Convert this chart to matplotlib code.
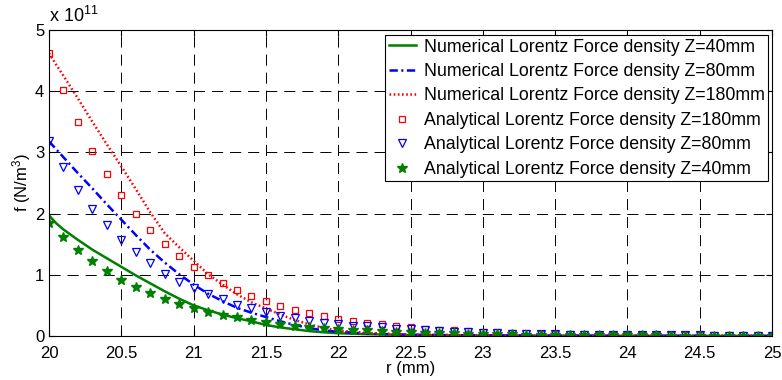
#!/usr/bin/env python
# -*- coding: utf-8 -*-
"""Lorentz force density vs radius: numerical lines and analytical markers."""

import matplotlib
matplotlib.use("Agg")
import matplotlib.pyplot as plt

plt.rcParams['font.family'] = ['Liberation Sans', 'DejaVu Sans']
plt.rcParams['mathtext.fontset'] = 'custom'
plt.rcParams['mathtext.rm'] = 'Liberation Sans'
plt.rcParams['mathtext.it'] = 'Liberation Sans:italic'
plt.rcParams['lines.scale_dashes'] = False

# r grid for the analytical points (mm)
r_ana = [20.0, 20.1, 20.2, 20.3, 20.4, 20.5, 20.6, 20.7, 20.8, 20.9,
         21.0, 21.1, 21.2, 21.3, 21.4, 21.5, 21.6, 21.7, 21.8, 21.9,
         22.0, 22.1, 22.2, 22.3, 22.4, 22.5, 22.6, 22.7, 22.8, 22.9,
         23.0, 23.1, 23.2, 23.3, 23.4, 23.5, 23.6, 23.7, 23.8, 23.9,
         24.0, 24.1, 24.2, 24.3, 24.4, 24.5, 24.6, 24.7, 24.8, 24.9, 25.0]

# analytical values, units of 1e11 N/m^3
ana_180 = [4.62, 4.02, 3.50, 3.03, 2.64, 2.30, 2.00, 1.73, 1.51, 1.31,
           1.13, 0.99, 0.86, 0.75, 0.65, 0.57, 0.49, 0.42, 0.37, 0.32,
           0.28, 0.25, 0.22, 0.19, 0.17, 0.15, 0.12, 0.10, 0.09, 0.08,
           0.07, 0.06, 0.05, 0.045, 0.04, 0.035, 0.03, 0.027, 0.024, 0.021,
           0.019, 0.017, 0.015, 0.014, 0.013, 0.012, 0.011, 0.010, 0.009, 0.009, 0.008]
ana_80 = [3.18, 2.76, 2.39, 2.08, 1.81, 1.57, 1.37, 1.19, 1.02, 0.89,
          0.78, 0.68, 0.60, 0.51, 0.45, 0.39, 0.33, 0.29, 0.25, 0.22,
          0.20, 0.17, 0.16, 0.14, 0.12, 0.11, 0.095, 0.08, 0.07, 0.06,
          0.05, 0.045, 0.04, 0.035, 0.03, 0.027, 0.024, 0.021, 0.019, 0.017,
          0.015, 0.013, 0.012, 0.011, 0.010, 0.009, 0.008, 0.008, 0.007, 0.007, 0.006]
ana_40 = [1.85, 1.61, 1.41, 1.23, 1.06, 0.92, 0.80, 0.70, 0.60, 0.52,
          0.46, 0.40, 0.35, 0.31, 0.26, 0.23, 0.20, 0.17, 0.15, 0.13,
          0.11, 0.10, 0.09, 0.08, 0.07, 0.065, 0.055, 0.05, 0.045, 0.04,
          0.035, 0.03, 0.027, 0.024, 0.021, 0.019, 0.017, 0.015, 0.013, 0.012,
          0.011, 0.010, 0.009, 0.008, 0.007, 0.007, 0.006, 0.006, 0.005, 0.005, 0.005]

# numerical curves
r_num = [20.0, 20.05, 20.1, 20.2, 20.3, 20.4, 20.5, 20.6, 20.7, 20.8, 20.9,
         21.0, 21.1, 21.2, 21.3, 21.4, 21.5, 21.6, 21.7, 21.8, 21.9,
         22.0, 22.2, 22.5, 23.0, 23.5, 24.0, 24.5, 25.0]
num_40 = [1.97, 1.84, 1.74, 1.57, 1.41, 1.27, 1.13, 0.99, 0.86, 0.73, 0.61,
          0.50, 0.42, 0.35, 0.29, 0.24, 0.18, 0.14, 0.11, 0.08, 0.06,
          0.045, 0.03, 0.015, 0.008, 0.005, 0.003, 0.002, 0.001]
num_80 = [3.18, 3.05, 2.92, 2.66, 2.41, 2.15, 1.90, 1.65, 1.41, 1.20, 1.01,
          0.84, 0.69, 0.57, 0.46, 0.38, 0.31, 0.24, 0.18, 0.13, 0.09,
          0.07, 0.04, 0.02, 0.010, 0.006, 0.004, 0.002, 0.001]
num_180 = [4.62, 4.43, 4.25, 3.88, 3.50, 3.13, 2.77, 2.40, 2.02, 1.68, 1.45,
           1.23, 1.01, 0.84, 0.68, 0.55, 0.45, 0.35, 0.26, 0.19, 0.13,
           0.09, 0.05, 0.025, 0.012, 0.007, 0.004, 0.002, 0.001]

xticks = [20, 20.5, 21, 21.5, 22, 22.5, 23, 23.5, 24, 24.5, 25]
xtick_labels = ['20', '20.5', '21', '21.5', '22', '22.5', '23', '23.5', '24', '24.5', '25']
yticks = [0, 1, 2, 3, 4, 5]
ytick_labels = ['0', '1', '2', '3', '4', '5']


def main():
    fig = plt.figure(figsize=(7.82, 3.8), dpi=100)
    ax = fig.add_axes([0.0627, 0.1158, 0.9246, 0.8053])

    # 数値解（線）
    ax.plot(r_num, num_40, color='#008000', lw=1.8, label='Numerical Lorentz Force density Z=40mm')
    ax.plot(r_num, num_80, color='#0000ff', lw=1.8, linestyle=(0, (6, 2.5, 1.5, 2.5)),
            label='Numerical Lorentz Force density Z=80mm')
    ax.plot(r_num, num_180, color='#ff0000', lw=1.8, linestyle=(0, (1.2, 1.8)),
            label='Numerical Lorentz Force density Z=180mm')

    # 解析解（マーカー）
    ax.plot(r_ana, ana_180, linestyle='none', marker='s', ms=5, mfc='none', mec='#ff0000', mew=0.9,
            label='Analytical Lorentz Force density Z=180mm')
    ax.plot(r_ana, ana_80, linestyle='none', marker='v', ms=6, mfc='none', mec='#0000ff', mew=0.9,
            label='Analytical Lorentz Force density Z=80mm')
    ax.plot(r_ana, ana_40, linestyle='none', marker='*', ms=7, color='#008000', mec='#008000',
            label='Analytical Lorentz Force density Z=40mm')

    ax.set_xlim(20, 25)
    ax.set_ylim(0, 5)
    ax.set_xticks(xticks)
    ax.set_xticklabels(xtick_labels)
    ax.set_yticks(yticks)
    ax.set_yticklabels(ytick_labels)
    ax.tick_params(direction='in', top=True, right=True, length=4, labelsize=12, width=0.8)
    ax.tick_params(axis='x', pad=7)
    ax.grid(True, color='k', lw=0.7, linestyle=(0, (8, 5)))
    for s in ax.spines.values():
        s.set_linewidth(0.8)

    ax.set_xlabel('r (mm)', fontsize=12, labelpad=0)
    ax.set_ylabel('f (N/m$^3$)', fontsize=12, labelpad=1)
    ax.text(0.0, 1.012, r'x 10$^{11}$', transform=ax.transAxes, fontsize=13,
            ha='left', va='bottom')

    leg = ax.legend(loc='upper right', bbox_to_anchor=(0.9945, 0.9837), fontsize=12.8,
                    fancybox=False, framealpha=1, edgecolor='k', handlelength=1.5,
                    handletextpad=0.45, borderaxespad=0, labelspacing=0.42, borderpad=0.2)
    leg.get_frame().set_linewidth(0.8)

    fig.savefig('out.png', dpi=100)


if __name__ == "__main__":
    main()
